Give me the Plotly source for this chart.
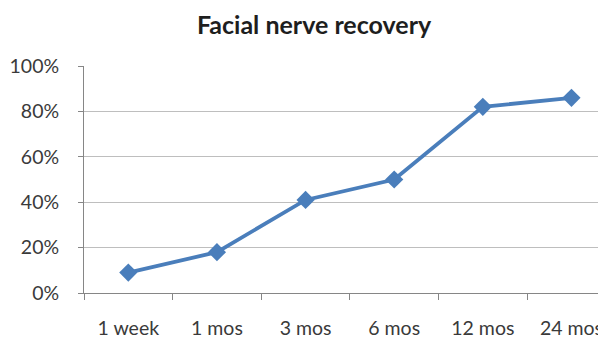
import plotly.graph_objects as go

categories = ["1 week", "1 mos", "3 mos", "6 mos", "12 mos", "24 mos"]
recovery = [0.09, 0.18, 0.41, 0.50, 0.82, 0.86]
y_ticks = [0, 0.2, 0.4, 0.6, 0.8, 1.0]
title_text = "Facial nerve recovery"

font_family = "Lato, Open Sans, sans-serif"

fig = go.Figure()
fig.add_trace(go.Scatter(
    x=categories, y=recovery, mode="lines+markers",
    line=dict(color="#4a7ebb", width=3.8),
    marker=dict(symbol="diamond", size=14, color="#4a7ebb"),
    showlegend=False, cliponaxis=False,
))

fig.update_layout(
    width=606, height=338,
    margin=dict(l=76, r=0, t=58, b=53, pad=0, autoexpand=False),
    paper_bgcolor="white", plot_bgcolor="white",
    font=dict(family=font_family, size=19.5, color="#3a3a3a"),
    title=dict(text="<b>" + title_text + "</b>", x=0.505, xanchor="center",
               y=0.95, yanchor="middle",
               font=dict(family=font_family, size=25, color="#1e1e1e")),
)
fig.update_xaxes(
    type="category", range=[-0.5, 5.48], automargin=False,
    tickson="boundaries", ticks="outside", ticklen=6, tickcolor="#868686",
    showline=True, linecolor="#868686", linewidth=1,
    showgrid=False, ticklabelstandoff=18,
)
fig.update_yaxes(
    range=[0, 1], tickvals=y_ticks, tickformat=".0%", automargin=False,
    ticks="outside", ticklen=5, tickcolor="#868686",
    showline=True, linecolor="#868686", linewidth=1,
    showgrid=True, gridcolor="#bebebe", gridwidth=1,
    zeroline=False, ticklabelstandoff=15,
)
fig.write_html("out.html")
